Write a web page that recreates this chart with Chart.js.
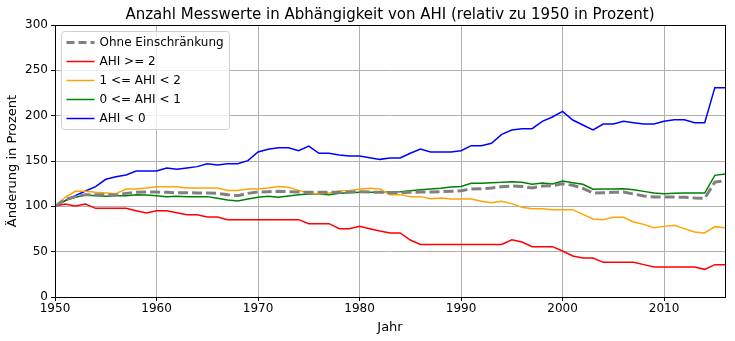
<!DOCTYPE html>
<html>
<head>
<meta charset="utf-8">
<script src="https://cdn.jsdelivr.net/npm/chart.js@4.4.1/dist/chart.umd.min.js"></script>
<style>
  html, body { margin: 0; padding: 0; background: #fff; }
  #wrap { width: 735px; height: 341px; position: relative; }
</style>
</head>
<body>
<div id="wrap"><canvas id="chart"></canvas></div>
<script>
const years = [];
for (let y = 1950; y <= 2016; y++) years.push(y);

const xTicks = [1950, 1960, 1970, 1980, 1990, 2000, 2010];
const yTicks = [0, 50, 100, 150, 200, 250, 300];

// Ohne Einschränkung
const gesamt = [
  100, 107.7, 110.7, 112.9, 112.9, 112.9, 112.5, 114.3, 115.4, 115.8,
  115.8, 115.4, 115, 115, 114.7, 114.7, 114.3, 112.9, 111.8, 114.3,
  115.8, 116.2, 116.5, 116.2, 115.8, 115.4, 115.4, 115.4, 115.4, 115.8,
  116.2, 115.8, 115.4, 115, 115, 115.4, 115.8, 115.8, 116.2, 116.5,
  117.3, 119.1, 119.5, 120.2, 121.7, 122.4, 122, 120.2, 122.4, 122.8,
  125, 123.2, 119.9, 114.7, 115, 115.4, 115.8, 113.6, 111.4, 110.3,
  110.3, 110.3, 109.9, 109.2, 108.8, 126.8, 128.3
];

// AHI >= 2
const ahiGe2 = [
  100, 102.6, 100.4, 102.6, 97.8, 97.8, 97.8, 97.8, 95.2, 92.6,
  95.2, 95.2, 93, 90.8, 90.8, 88.2, 88.2, 85.3, 85.3, 85.3,
  85.3, 85.3, 85.3, 85.3, 85.3, 80.9, 80.9, 80.9, 75.3, 75.3,
  77.9, 75.3, 72.8, 70.6, 70.6, 62.8, 58, 58, 58, 58,
  58, 58, 58, 58, 58, 63.2, 60.7, 55.5, 55.5, 55.5,
  50.7, 45.2, 43, 43, 38.2, 38.2, 38.2, 38.2, 35.7, 33,
  33, 33, 33, 33, 30.5, 35.7, 35.7
];

// 1 <= AHI < 2
const ahi1bis2 = [
  100, 110, 116.5, 116.5, 115.4, 114.7, 114, 119, 119, 120.2,
  121.7, 121.7, 121.7, 120.2, 120.2, 120.2, 120.2, 117.6, 117.6, 119,
  119, 120.2, 122, 121, 117.6, 114.7, 113.6, 114.7, 116.9, 117.6,
  118.8, 119.9, 119, 112.9, 112.9, 110.7, 110.7, 108.5, 109.2, 108,
  108, 108, 105.5, 104, 105.5, 103, 98.9, 97.4, 97.4, 96.3,
  96.3, 96.3, 91.2, 86, 85.3, 87.9, 87.9, 82.7, 80.1, 76.5,
  77.9, 79, 75.4, 71.7, 70.6, 77.6, 76.5
];

// 0 <= AHI < 1
const ahi0bis1 = [
  100, 106.3, 110, 112.5, 111.8, 111, 111.8, 111.8, 112.9, 112.5,
  111.8, 110.7, 111, 110.7, 110.7, 110.7, 108.8, 107, 105.9, 108,
  110, 111, 110, 111.4, 112.9, 113.6, 113.6, 112.9, 114.3, 115,
  115.4, 115.4, 115.4, 115.8, 116.2, 117.3, 118.4, 119.1, 119.9, 121.3,
  122, 125.4, 125.4, 126.1, 126.5, 127.2, 126.5, 124.3, 125.7, 124.6,
  127.9, 126.1, 124.3, 118.8, 119.1, 119.1, 119.5, 118.4, 116.5, 114.7,
  114, 114.3, 114.7, 114.7, 114.7, 134.2, 135.7
];

// AHI < 0
const ahiLt0 = [
  100, 106.3, 111.8, 116.9, 121.7, 129.8, 132.7, 134.6, 139, 139,
  139, 142.3, 140.8, 142.3, 143.8, 147, 145.6, 147, 147, 150.4,
  159.9, 162.9, 164.7, 164.7, 161.4, 166.5, 158.5, 158.5, 156.6, 155.5,
  155.5, 153.7, 151.8, 153.3, 153.3, 158.5, 163.3, 160, 160, 160,
  161.4, 166.9, 166.9, 169.5, 179.4, 184.2, 185.7, 185.7, 193.8, 198.5,
  204.8, 195.2, 189.7, 184.2, 190.8, 190.8, 193.8, 192.3, 190.8, 190.8,
  193.8, 195.6, 195.6, 192.3, 192.3, 230.9, 230.9
];

const FONT = 'DejaVu Sans';

function pts(vals) {
  return vals.map((v, i) => ({ x: years[i], y: v }));
}

const series = [
  { label: 'Ohne Einschränkung', data: gesamt, color: '#808080', width: 3, dash: [10, 4] },
  { label: 'AHI >= 2', data: ahiGe2, color: '#ff0000', width: 1.5, dash: [] },
  { label: '1 <= AHI < 2', data: ahi1bis2, color: '#ffa500', width: 1.5, dash: [] },
  { label: '0 <= AHI < 1', data: ahi0bis1, color: '#008000', width: 1.5, dash: [] },
  { label: 'AHI < 0', data: ahiLt0, color: '#0000ff', width: 1.5, dash: [] }
];

// frame, title and matplotlib-like legend box
const decor = {
  id: 'decor',
  afterDraw(chart) {
    const { ctx, chartArea: a } = chart;
    ctx.save();
    ctx.strokeStyle = '#000';
    ctx.lineWidth = 1;
    ctx.strokeRect(Math.round(a.left) + 0.5, Math.round(a.top) + 0.5,
      Math.round(a.right - a.left), Math.round(a.bottom - a.top));

    ctx.fillStyle = '#000';
    ctx.font = '15px "' + FONT + '"';
    ctx.textAlign = 'center';
    ctx.textBaseline = 'alphabetic';
    ctx.fillText('Anzahl Messwerte in Abhängigkeit von AHI (relativ zu 1950 in Prozent)',
      (a.left + a.right) / 2, 19);

    // legend
    const lx = a.left + 6.5, ly = a.top + 6.5, lw = 168, lh = 98;
    ctx.fillStyle = 'rgba(255,255,255,0.8)';
    ctx.strokeStyle = '#d0d0d0';
    ctx.beginPath();
    if (ctx.roundRect) ctx.roundRect(lx, ly, lw, lh, 3); else ctx.rect(lx, ly, lw, lh);
    ctx.fill();
    ctx.stroke();
    ctx.font = '12px "' + FONT + '"';
    ctx.textAlign = 'left';
    ctx.textBaseline = 'middle';
    series.forEach((s, i) => {
      const yy = ly + 11 + i * 19;
      ctx.strokeStyle = s.color;
      ctx.lineWidth = s.width;
      ctx.setLineDash(s.dash.length ? [8, 4] : []);
      ctx.beginPath();
      ctx.moveTo(lx + 5, yy);
      ctx.lineTo(lx + 33, yy);
      ctx.stroke();
      ctx.setLineDash([]);
      ctx.fillStyle = '#000';
      ctx.fillText(s.label, lx + 38, yy);
    });
    ctx.restore();
  }
};

new Chart(document.getElementById('chart'), {
  type: 'line',
  data: {
    datasets: series.map(s => ({
      label: s.label,
      data: pts(s.data),
      borderColor: s.color,
      backgroundColor: s.color,
      borderWidth: s.width,
      borderDash: s.dash,
      pointRadius: 0,
      tension: 0,
      fill: false
    }))
  },
  options: {
    responsive: true,
    maintainAspectRatio: false,
    animation: false,
    layout: { padding: { top: 25, right: 10, left: 0, bottom: 0 } },
    plugins: {
      legend: { display: false },
      title: { display: false },
      tooltip: { enabled: false }
    },
    scales: {
      x: {
        type: 'linear',
        min: 1950,
        max: 2016,
        afterBuildTicks: axis => { axis.ticks = xTicks.map(v => ({ value: v })); },
        afterFit: axis => { axis.height = 44; },
        ticks: {
          color: '#000',
          font: { family: FONT, size: 12 },
          padding: 1,
          maxRotation: 0,
          callback: v => String(v)
        },
        grid: { color: '#b0b0b0', tickColor: '#000', tickLength: 4 },
        border: { color: '#000' },
        title: {
          display: true,
          text: 'Jahr',
          color: '#000',
          font: { family: FONT, size: 13 },
          padding: { top: 0, bottom: 6 }
        }
      },
      y: {
        min: 0,
        max: 300,
        afterBuildTicks: axis => { axis.ticks = yTicks.map(v => ({ value: v })); },
        afterFit: axis => { axis.width = 55; },
        ticks: {
          color: '#000',
          font: { family: FONT, size: 12 },
          padding: 3
        },
        grid: { color: '#b0b0b0', tickColor: '#000', tickLength: 4 },
        border: { color: '#000' },
        title: {
          display: true,
          text: 'Änderung in Prozent',
          color: '#000',
          font: { family: FONT, size: 13 },
          padding: { top: 5, bottom: 0 }
        }
      }
    }
  },
  plugins: [decor]
});
</script>
</body>
</html>
